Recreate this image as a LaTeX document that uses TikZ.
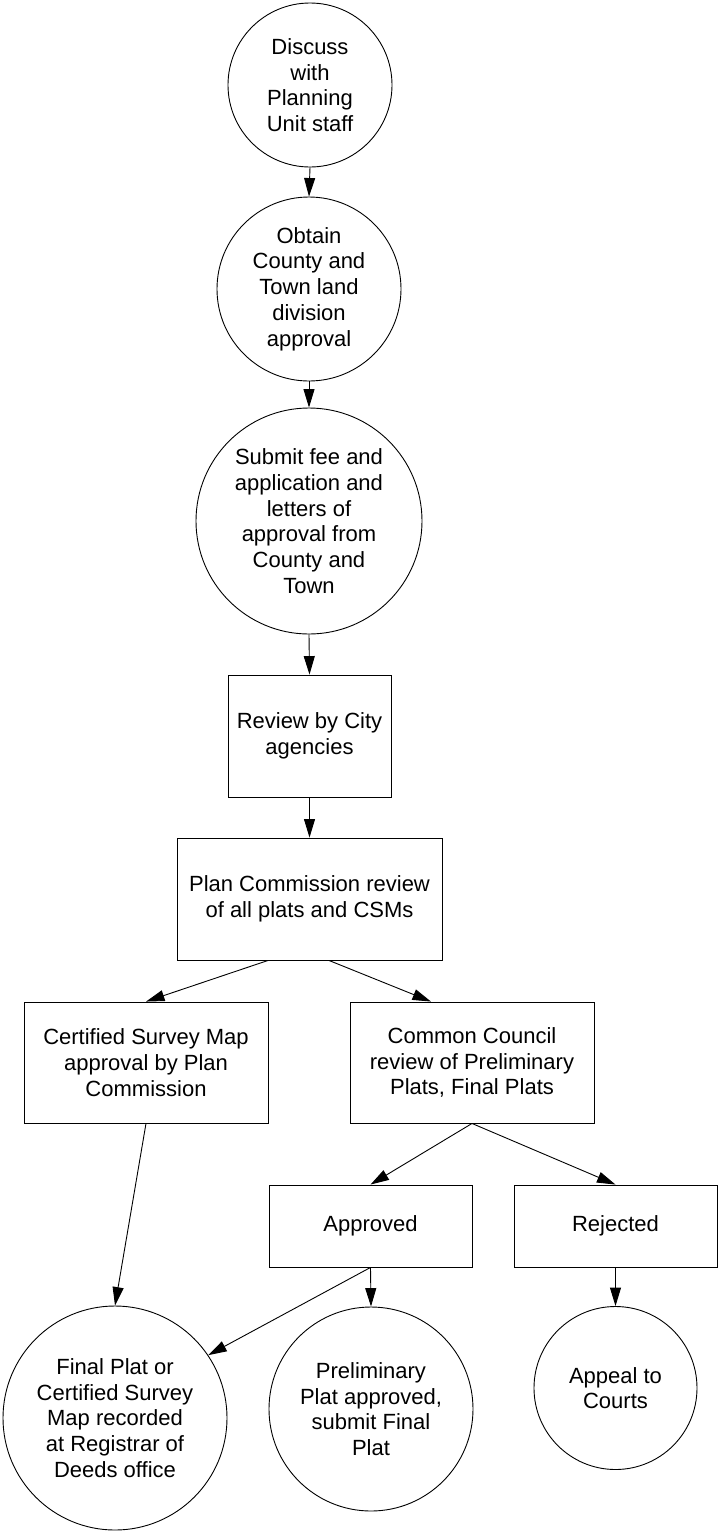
\documentclass[tikz,border=0pt]{standalone}
\usepackage{fontspec}
\setmainfont{Liberation Sans}
\usetikzlibrary{arrows.meta}
\begin{document}
\begin{tikzpicture}[x=1pt,y=-1pt,
  every node/.style={font=\fontsize{22}{25.7}\selectfont, align=center, inner sep=0pt},
  circ/.style={draw, circle, line width=0.9pt},
  stepbox/.style={draw, rectangle, line width=0.9pt},
  flow/.style={draw, line width=0.9pt, -{Triangle[length=18.5pt,width=11pt]}}]
\useasboundingbox (0,0) rectangle (719,1532);

% upper chain
\node[circ, minimum size=164pt] (discuss) at (310,85) {Discuss\\with\\Planning\\Unit staff};
\node[circ, minimum size=184pt] (obtain) at (309,289) {Obtain\\County and\\Town land\\division\\approval};
\node[circ, minimum size=226pt] (submit) at (309,521) {Submit fee and\\application and\\letters of\\approval from\\County and\\Town};
\node[stepbox, minimum width=163pt, minimum height=122pt] (review) at (309.5,736) {Review by City\\agencies};
\node[stepbox, minimum width=265pt, minimum height=122pt] (plan) at (309.5,899) {Plan Commission review\\of all plats and CSMs};

% branches
\node[stepbox, minimum width=244pt, minimum height=121pt] (csm) at (146,1062.5) {Certified Survey Map\\approval by Plan\\Commission};
\node[stepbox, minimum width=244pt, minimum height=121pt] (council) at (472,1062.5) {Common Council\\review of Preliminary\\Plats, Final Plats};
\node[stepbox, minimum width=203pt, minimum height=82pt] (approved) at (370.5,1226) {Approved};
\node[stepbox, minimum width=203pt, minimum height=82pt] (rejected) at (615.5,1226) {Rejected};

% outcomes
\node[circ, minimum size=224pt] (deeds) at (115,1418) {Final Plat or\\Certified Survey\\Map recorded\\at Registrar of\\Deeds office};
\node[circ, minimum size=204pt] (prelim) at (371,1409) {Preliminary\\Plat approved,\\submit Final\\Plat};
\node[circ, minimum size=163pt] (appeal) at (615.5,1388) {Appeal to\\Courts};

% connectors
\draw[flow] (discuss.south) -- (obtain.north);
\draw[flow] (obtain.south) -- (submit.north);
\draw[flow] (submit.south) -- (review.north);
\draw[flow] (review.south) -- (plan.north);
\draw[flow] ([xshift=-41.5pt]plan.south) -- (csm.north);
\draw[flow] ([xshift=19.5pt]plan.south) -- ([xshift=-41pt]council.north);
\draw[flow] (council.south) -- (approved.north);
\draw[flow] (council.south) -- (rejected.north);
\draw[flow] (csm.south) -- (deeds.north);
\draw[flow] (approved.south) -- (prelim.north);
\draw[flow] (approved.south) -- (deeds.34);
\draw[flow] (rejected.south) -- (appeal.north);
\end{tikzpicture}
\end{document}
